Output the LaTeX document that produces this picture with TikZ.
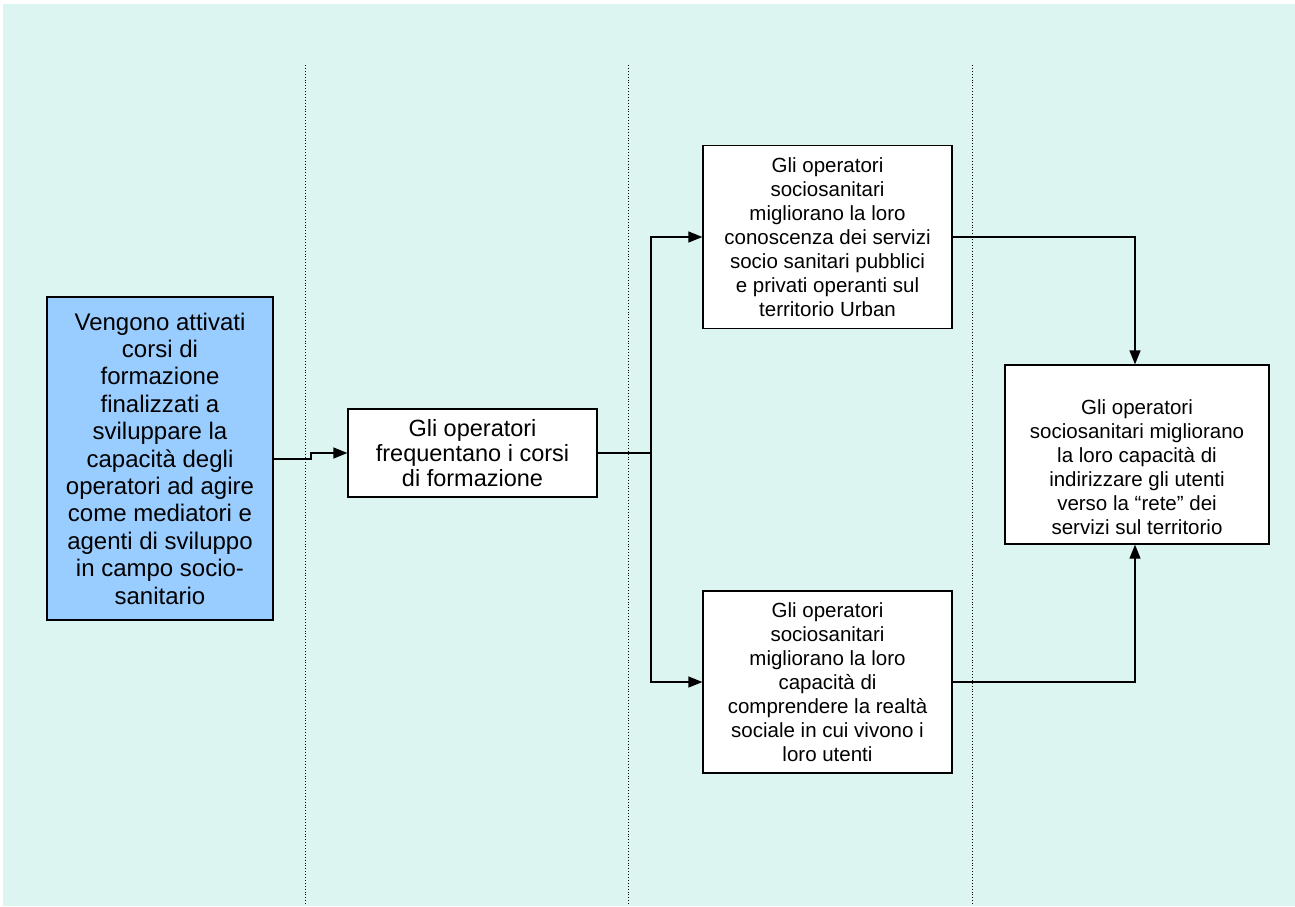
\documentclass[tikz,border=0pt]{standalone}
\usepackage{fontspec}
\setmainfont{Liberation Sans}
\usetikzlibrary{arrows.meta}
\definecolor{panel}{RGB}{221,245,241}
\definecolor{startfill}{RGB}{153,204,255}
\tikzset{
  box/.style={draw=black, line width=1.3pt, fill=white, inner sep=0pt, align=center, text=black},
  bigtext/.style={font=\fontsize{24}{27.4}\selectfont},
  midtext/.style={font=\fontsize{23.5}{25}\selectfont},
  smalltext/.style={font=\fontsize{20.5}{24}\selectfont},
  link/.style={draw=black, line width=1.3pt, -{Triangle[length=14pt,width=11pt]}},
  lane/.style={draw=black, line width=0.9pt, dotted}
}
\begin{document}
\begin{tikzpicture}[x=1pt,y=-1pt]
\useasboundingbox (0,0) rectangle (1295,906);
% background panel
\fill[panel] (3,4) rectangle (1295,906);
% lane separators
\draw[lane] (305,65) -- (305,904);
\draw[lane] (628,65) -- (628,904);
\draw[lane] (972,65) -- (972,904);

% boxes
\node[box, fill=startfill, bigtext, minimum width=226pt, minimum height=323pt] (start) at (160,458.5)
  {Vengono attivati\\corsi di\\formazione\\finalizzati a\\sviluppare la\\capacità degli\\operatori ad agire\\come mediatori e\\agenti di sviluppo\\in campo socio-\\sanitario};
\node[box, midtext, minimum width=249pt, minimum height=88pt] (attend) at (472.5,453)
  {Gli operatori\\frequentano i corsi\\di formazione};
\node[box, minimum width=249pt, minimum height=183pt] (know) at (827.5,237) {};
\node[smalltext, align=center, inner sep=0pt] at (know.center)
  {Gli operatori\\sociosanitari\\migliorano la loro\\conoscenza dei servizi\\socio sanitari pubblici\\e privati operanti sul\\territorio Urban};
\node[box, minimum width=249pt, minimum height=182pt] (understand) at (827.5,682) {};
\node[smalltext, align=center, inner sep=0pt] at (understand.center)
  {Gli operatori\\sociosanitari\\migliorano la loro\\capacità di\\comprendere la realtà\\sociale in cui vivono i\\loro utenti};
\node[box, minimum width=264pt, minimum height=179pt] (direct) at (1137,454.5) {};
\node[smalltext, align=center, inner sep=0pt] at ([yshift=-13pt]direct.center)
  {Gli operatori\\sociosanitari migliorano\\la loro capacità di\\indirizzare gli utenti\\verso la “rete” dei\\servizi sul territorio};

% connectors
\coordinate (j1) at (311,459);
\coordinate (split) at (651,453);
\coordinate (merge) at (1135,454.5);
\draw[link] ([yshift=-0.5pt]start.east) -- (j1) |- (attend.west);
\draw[line width=1.3pt] (attend.east) -- (split);
\draw[link] (split) |- (know.west);
\draw[link] (split) |- (understand.west);
\draw[link] (know.east) -- (know.east -| merge) -- (direct.north -| merge);
\draw[link] (understand.east) -- (understand.east -| merge) -- (direct.south -| merge);
\end{tikzpicture}
\end{document}
